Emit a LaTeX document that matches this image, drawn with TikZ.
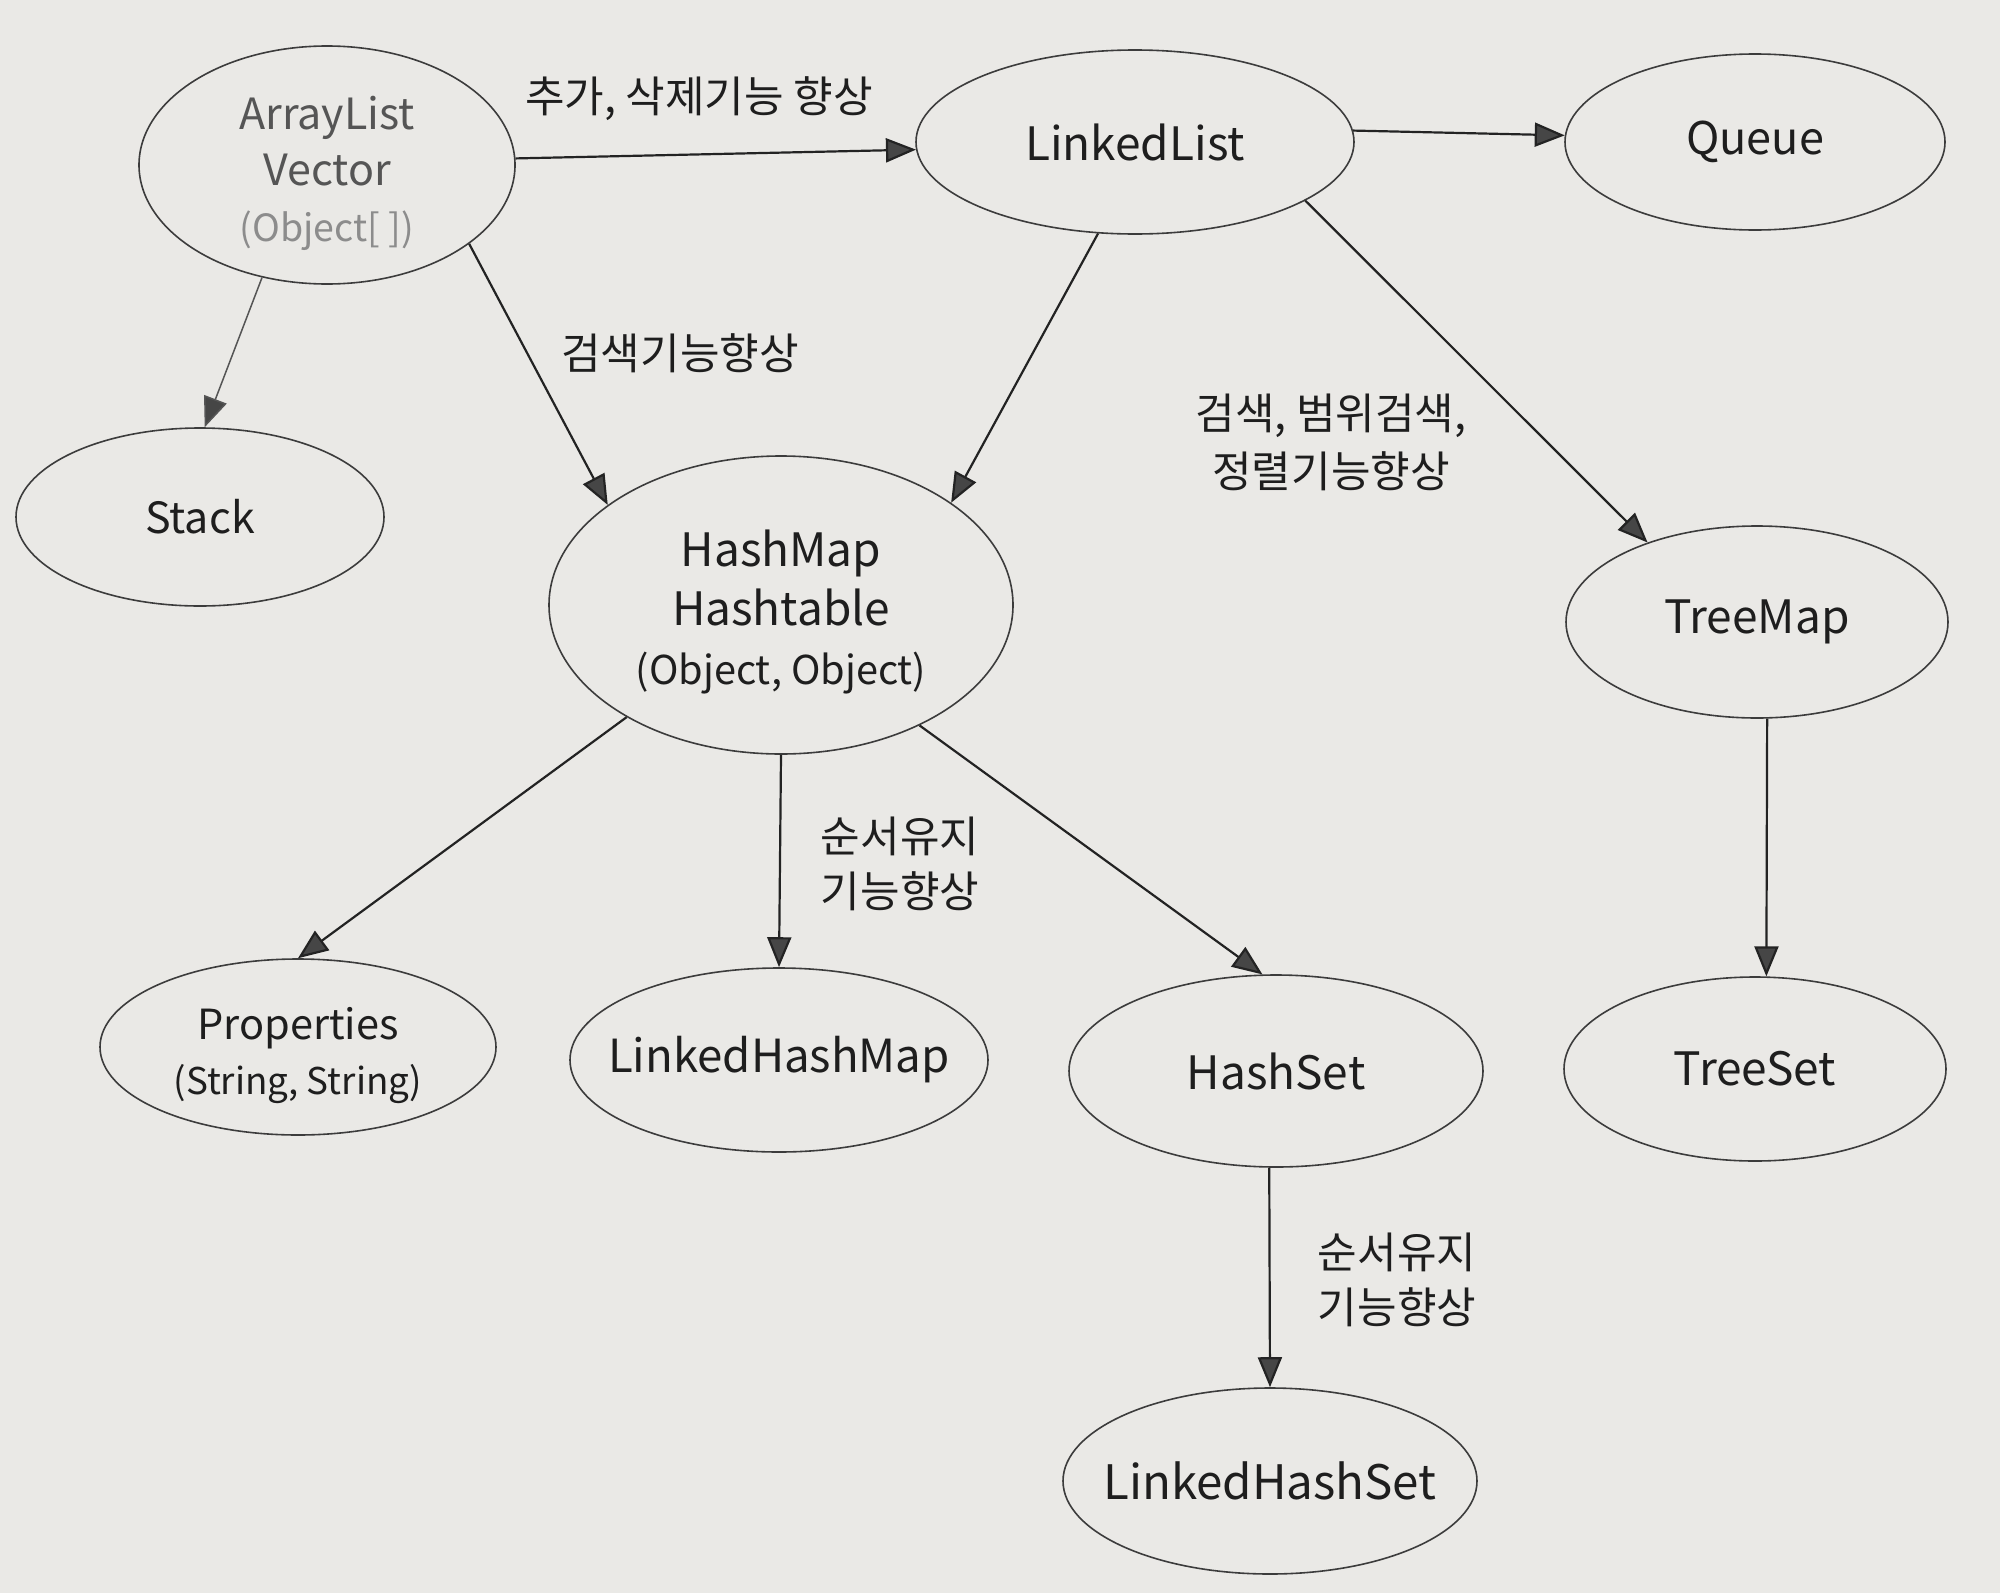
\documentclass[tikz,border=0pt]{standalone}
\usepackage{fontspec}
\setmainfont{Noto Sans CJK KR}
\usetikzlibrary{shapes.geometric,arrows.meta}
\definecolor{paper}{RGB}{234,233,230}
\definecolor{ellcol}{RGB}{60,60,60}
\definecolor{linecol}{RGB}{35,35,35}
\definecolor{headcol}{RGB}{70,70,70}
\definecolor{txt}{RGB}{30,30,30}
\definecolor{txtgray}{RGB}{85,85,85}
\definecolor{txtlight}{RGB}{140,140,140}
\begin{document}
\begin{tikzpicture}[x=1pt,y=-1pt,
  ell/.style={ellipse, draw=ellcol, line width=1.6pt, inner xsep=-40pt, inner ysep=-20pt, align=center, text=txt,
    font=\fontsize{46}{57}\selectfont},
  arr/.style={line width=2.2pt, draw=linecol, -{Triangle[length=30pt,width=24pt,fill=headcol]}},
  thinarr/.style={line width=1.5pt, draw=txtgray, -{Triangle[length=30pt,width=24pt,fill=headcol]}},
  lbl/.style={font=\fontsize{43}{55}\selectfont, text=txt, align=center}]
\fill[paper] (0,0) rectangle (2000,1593);
\useasboundingbox (0,0) rectangle (2000,1593);

\node[ell, minimum width=376pt, minimum height=238pt, font=\fontsize{43}{56}\selectfont] (al) at (327,165)
  {\rule{0pt}{50pt}\textcolor{txtgray}{ArrayList}\\\textcolor{txtgray}{Vector}\\\textcolor{txtlight}{\fontsize{37.5}{56}\selectfont(Object[ ])}};
\node[ell, minimum width=438pt, minimum height=184pt] (ll) at (1135,142) {LinkedList};
\node[ell, minimum width=380pt, minimum height=176pt, font=\fontsize{45}{57}\selectfont] (q) at (1755,142) {Queue};
\node[ell, minimum width=368pt, minimum height=178pt, font=\fontsize{43}{57}\selectfont] (st) at (200,517) {Stack};
\node[ell, minimum width=464pt, minimum height=298pt, font=\fontsize{46}{59}\selectfont] (hm) at (781,605)
  {\rule{0pt}{51pt}HashMap\\Hashtable\\{\fontsize{39.7}{59}\selectfont(Object, Object)}};
\node[ell, minimum width=382pt, minimum height=192pt] (tm) at (1757,622) {TreeMap};
\node[ell, minimum width=396pt, minimum height=176pt, font=\fontsize{41.5}{55}\selectfont] (pr) at (298,1047)
  {\rule{0pt}{50pt}Properties\\{\fontsize{36.8}{55}\selectfont(String, String)}};
\node[ell, minimum width=418pt, minimum height=184pt, font=\fontsize{45.6}{57}\selectfont] (lhm) at (779,1060) {LinkedHashMap};
\node[ell, minimum width=414pt, minimum height=192pt] (hs) at (1276,1071) {HashSet};
\node[ell, minimum width=382pt, minimum height=184pt] (ts) at (1755,1069) {TreeSet};
\node[ell, minimum width=414pt, minimum height=186pt, font=\fontsize{47.5}{57}\selectfont] (lhs) at (1270,1481) {LinkedHashSet};

\draw[arr] (al.2) -- (ll.182);
\draw[arr] (ll.3) -- (q.178);
\draw[thinarr] (al.240) -- (st.87);
\draw[arr] (al.-29.5) -- (hm.150);
\draw[arr] (ll.248) -- (hm.31);
\draw[arr] (ll.-19) -- (tm.144);
\draw[arr] (hm.216) -- (pr.90);
\draw[arr] (hm.270) -- (lhm.90);
\draw[arr] (hm.-41) -- (hs.98);
\draw[arr] (tm.-84) -- (ts.83);
\draw[arr] (hs.-94) -- (lhs.90);

\node[lbl] (l1) at (699,99) {추가, 삭제기능 향상};
\node[lbl] (l2) at (680,353) {검색기능향상};
\node[lbl, font=\fontsize{43}{58}\selectfont] (l3) at (1331,442) {검색, 범위검색,\\정렬기능향상};
\node[lbl] (l4) at (900,864) {순서유지\\기능향상};
\node[lbl] (l5) at (1397,1280) {순서유지\\기능향상};
\end{tikzpicture}
\end{document}
